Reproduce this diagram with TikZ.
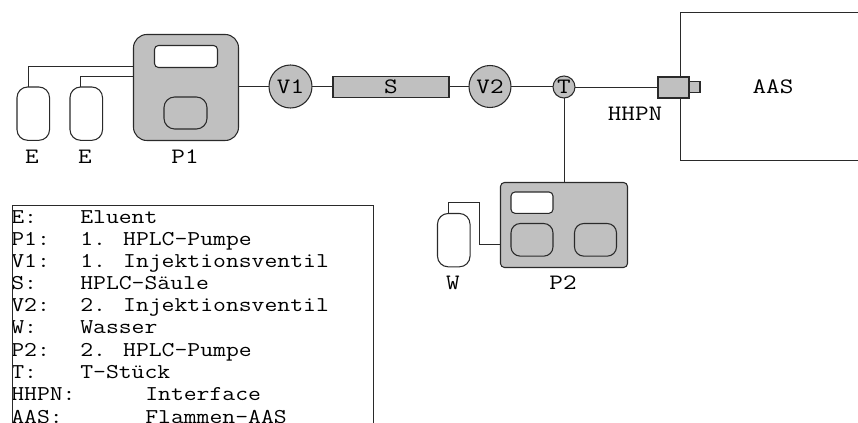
\documentclass[tikz,border=0pt]{standalone}
\usepackage{fontspec}
\definecolor{fillg}{HTML}{C0C0C0}
\definecolor{ink}{HTML}{2A2A2A}
\tikzset{
  x=0.75pt,y=-0.75pt,
  wire/.style={draw=ink,line width=0.75pt},
  box/.style={draw=ink,line width=0.8pt,inner sep=0pt,outer sep=0pt,anchor=north west,rectangle,rounded corners=#1},
  box/.default=0pt,
  pumpbody/.style={box=#1,fill=fillg},
  panel/.style={box=#1,fill=fillg},
  screen/.style={box=3pt,fill=white},
  bottle/.style={box=8pt,fill=white,minimum width=24.4pt,minimum height=40pt},
  valve/.style={circle,draw=ink,fill=fillg,line width=0.8pt,inner sep=0pt,outer sep=0pt,anchor=center},
  lbl/.style={font=\fontsize{16.5pt}{17pt}\ttfamily,text=black,inner sep=0pt,xscale=1.2,transform shape},
  leg/.style={font=\fontsize{15.8pt}{16pt}\ttfamily,text=black,inner sep=0pt,xscale=1.185,transform shape,anchor=base west},
}
\begin{document}
\begin{tikzpicture}
\useasboundingbox (0,0) rectangle (858,423);
% AAS
\coordinate (aasBL) at (680,160.5);
\coordinate (aasTL) at (680,13);
\coordinate (aasTR) at (858,13);
\coordinate (aasBR) at (858,160.5);
\draw[wire] (aasTR) -- (aasTL) -- (aasBL) -- (aasBR);
% bottles
\node[bottle] (e1) at (17,87) {};
\node[bottle] (e2) at (70,87) {};
\node[bottle] (w) at (437.5,213.5) {};
% pump 1
\node[pumpbody=10pt,minimum width=78.75pt,minimum height=79.5pt] (p1) at (133.5,34.5) {};
\node[screen,minimum width=47.25pt,minimum height=16.5pt] (p1s) at (154.5,45.5) {};
\node[panel=8pt,minimum width=32.25pt,minimum height=24pt] (p1k) at (164,97) {};
% pump 2
\node[pumpbody=3pt,minimum width=95.25pt,minimum height=63.75pt] (p2) at (500.5,182.5) {};
\node[screen,minimum width=31.5pt,minimum height=16pt] (p2s) at (511,192) {};
\node[panel=7pt,minimum width=31.5pt,minimum height=24.5pt] (p2a) at (511,223.5) {};
\node[panel=7pt,minimum width=31.5pt,minimum height=24.5pt] (p2b) at (574.5,223.5) {};
% inline parts
\node[valve,minimum size=32.25pt] (v1) at (290.5,86.5) {};
\node[box,fill=fillg,minimum width=87pt,minimum height=15.75pt] (s) at (333,76.5) {};
\node[valve,minimum size=31.5pt] (v2) at (490,86.5) {};
\node[valve,minimum size=16.5pt] (t) at (564,87) {};
\node[box,fill=fillg,minimum width=8.25pt,minimum height=8.25pt] (hs) at (689,81.5) {};
\node[box,fill=fillg,minimum width=23.25pt,minimum height=15.75pt] (h) at (658,77) {};
% connectors
\coordinate (p1a) at (133.5,67);
\coordinate (p1b) at (133.5,77);
\coordinate (wr) at (479,202.5);
\coordinate (p2w) at (500.5,245);
\coordinate (e1t) at (28,87);
\coordinate (e2t) at (80,87);
\coordinate (wt) at (448.5,213.5);
\draw[wire] (e1t) |- (p1a);
\draw[wire] (e2t) |- (p1b);
\draw[wire] (p1.east |- v1.west) -- (v1.west);
\draw[wire] (v1.east) -- (s.west |- v1.east);
\draw[wire] (s.east |- v2.west) -- (v2.west);
\draw[wire] (v2.east) -- (t.west |- v2.east);
\draw[wire] (t.east |- h.west) -- (h.west);
\draw[wire] (t.south) -- (p2.north -| t.south);
\draw[wire] (wt) |- (wr) |- (p2w);
% labels
\node[lbl] (le1) at (32,156.5) {E};
\node[lbl] (le2) at (85,156.5) {E};
\node[lbl] (lp1) at (185,156.5) {P1};
\node[lbl] at (v1) {V1};
\node[lbl] at (s) {S};
\node[lbl] at (v2) {V2};
\node[lbl] at (t) {T};
\node[lbl] (lh) at (635,114) {HHPN};
\node[lbl] (laas) at (773,87) {AAS};
\node[lbl] (lw) at (453,283) {W};
\node[lbl] (lp2) at (563,283) {P2};
% legend
\coordinate (lgBL) at (12.5,423);
\coordinate (lgTL) at (12.5,205.5);
\coordinate (lgTR) at (373,205.5);
\coordinate (lgBR) at (373,423);
\begin{scope}
\clip (lgBL) rectangle (lgTR);
\node[leg] (k1) at (11,223.5) {E:};
\node[leg] (v1t) at (80,223.5) {Eluent};
\node[leg] (k2) at (11,245.5) {P1:};
\node[leg] (v2t) at (80,245.5) {1. HPLC-Pumpe};
\node[leg] (k3) at (11,268) {V1:};
\node[leg] (v3t) at (80,268) {1. Injektionsventil};
\node[leg] (k4) at (11,290) {S:};
\node[leg] (v4t) at (80,290) {HPLC-Säule};
\node[leg] (k5) at (11,312) {V2:};
\node[leg] (v5t) at (80,312) {2. Injektionsventil};
\node[leg] (k6) at (11,334) {W:};
\node[leg] (v6t) at (80,334) {Wasser};
\node[leg] (k7) at (11,356.5) {P2:};
\node[leg] (v7t) at (80,356.5) {2. HPLC-Pumpe};
\node[leg] (k8) at (11,379) {T:};
\node[leg] (v8t) at (80,379) {T-Stück};
\node[leg] (k9) at (11,401) {HHPN:};
\node[leg] (v9t) at (145,401) {Interface};
\node[leg] (k10) at (11,423.5) {AAS:};
\node[leg] (v10t) at (145,423.5) {Flammen-AAS};
\end{scope}
\draw[wire] (lgBL) -- (lgTL) -- (lgTR) -- (lgBR);
\end{tikzpicture}
\end{document}
